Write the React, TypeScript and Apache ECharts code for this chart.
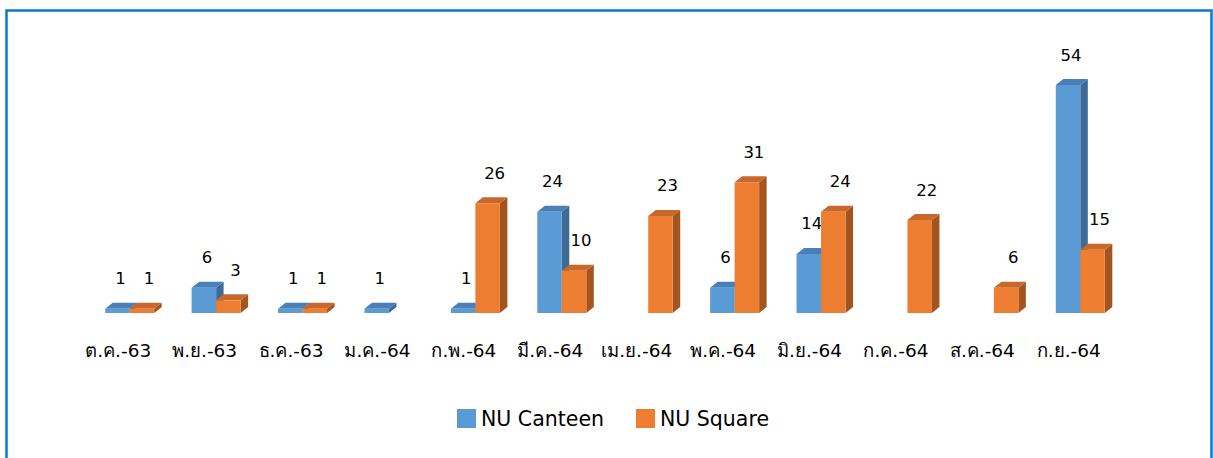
import React, { useEffect, useRef } from "react";
import * as echarts from "echarts";

const categories = ["ต.ค.-63", "พ.ย.-63", "ธ.ค.-63", "ม.ค.-64", "ก.พ.-64", "มี.ค.-64", "เม.ย.-64", "พ.ค.-64", "มิ.ย.-64", "ก.ค.-64", "ส.ค.-64", "ก.ย.-64"];
const canteen = [1, 6, 1, 1, 1, 24, 0, 6, 14, 0, 0, 54];
const square = [1, 3, 1, 0, 26, 10, 23, 31, 24, 22, 6, 15];
const seriesNames = ["NU Canteen", "NU Square"];

const FONT = "DejaVu Sans, Tahoma, sans-serif";
const palettes = [
  { front: "#5B9BD5", top: "#4A80B8", side: "#3E6A95" },
  { front: "#ED7D31", top: "#C8682A", side: "#A3551F" },
];

function makeRender(sIdx: number) {
  return (params: any, api: any) => {
    const i = api.value(0);
    const v = api.value(1);
    if (!v) return null;
    const base = api.coord([i, 0]);
    const top = api.coord([i, v]);
    const w = 24.5;
    const dx = 7.5;
    const dy = 6;
    const pairCenter = base[0] + 11.5;
    const x0 = sIdx === 0 ? pairCenter - w : pairCenter;
    const yb = base[1];
    const yt = top[1];
    const pal = palettes[sIdx];
    const labelDx = sIdx === 0 ? 3 : 7;
    return {
      type: "group",
      children: [
        {
          type: "polygon",
          shape: { points: [[x0 + w, yt], [x0 + w + dx, yt - dy], [x0 + w + dx, yb - dy], [x0 + w, yb]] },
          style: { fill: pal.side },
        },
        {
          type: "polygon",
          shape: { points: [[x0, yt], [x0 + dx, yt - dy], [x0 + w + dx, yt - dy], [x0 + w, yt]] },
          style: { fill: pal.top },
        },
        {
          type: "rect",
          shape: { x: x0, y: yt, width: w, height: yb - yt },
          style: { fill: pal.front },
        },
        {
          type: "text",
          x: x0 + w / 2 + labelDx,
          y: yt - 30,
          style: {
            text: String(v),
            fill: "#000",
            font: `16.5px ${FONT}`,
            align: "center",
            verticalAlign: "middle",
          },
        },
      ],
    };
  };
}

export default function App() {
  const ref = useRef<HTMLDivElement>(null);
  useEffect(() => {
    if (!ref.current) return;
    const chart = echarts.init(ref.current, null, { renderer: "svg" });
    const seriesData = [canteen, square];
    chart.setOption({
      animation: false,
      backgroundColor: "#fff",
      grid: { left: 75, right: 101, top: 59.7, bottom: 145 },
      xAxis: {
        type: "category",
        data: categories,
        axisLine: { show: false },
        axisTick: { show: false },
        axisLabel: { color: "#000", fontSize: 18.5, fontFamily: FONT, margin: 28, interval: 0 },
      },
      yAxis: { type: "value", min: 0, max: 60, show: false, splitLine: { show: false } },
      legend: {
        data: seriesNames,
        top: 403,
        left: 452,
        icon: "rect",
        itemWidth: 19,
        itemHeight: 19,
        itemGap: 32,
        textStyle: { color: "#000", fontSize: 20.5, fontFamily: FONT },
      },
      graphic: [
        {
          type: "rect",
          shape: { x: 6.5, y: 10.5, width: 1205, height: 470 },
          style: { fill: "none", stroke: "#0A78D0", lineWidth: 2.5 },
          silent: true,
        },
      ],
      series: seriesData.map((d, s) => ({
        type: "custom",
        name: seriesNames[s],
        itemStyle: { color: palettes[s].front },
        renderItem: makeRender(s),
        data: d.map((v, i) => [i, v]),
        encode: { x: 0, y: 1 },
      })),
    });
    return () => chart.dispose();
  }, []);
  return <div ref={ref} style={{ position: "fixed", left: 0, top: 0, width: 1213, height: 458 }} />;
}
